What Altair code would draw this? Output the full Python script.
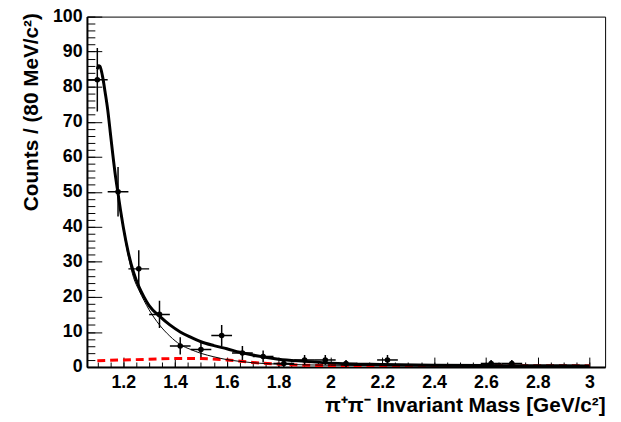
import altair as alt
import pandas as pd
import numpy as np

# ---- data ----
bin_centers = [1.10, 1.18, 1.26, 1.34, 1.42, 1.50, 1.58, 1.66, 1.74, 1.82, 1.90, 1.98, 2.06, 2.22, 2.62, 2.70]
counts = [82, 50, 28, 15, 6, 5, 9, 4, 3, 1, 2, 2, 1, 2, 1, 1]
bin_half_width = 0.04

curve_x = [1.100, 1.105, 1.11, 1.12, 1.13, 1.14, 1.15, 1.16, 1.17, 1.18, 1.19, 1.20, 1.22, 1.24, 1.26, 1.28,
           1.30, 1.34, 1.38, 1.42, 1.46, 1.50, 1.55, 1.60, 1.65, 1.70, 1.80, 1.90, 2.00, 2.20, 2.40, 2.60,
           2.80, 3.00]
total_fit = [85.0, 86.0, 85.8, 83.0, 78.5, 73.5, 67.0, 60.5, 54.5, 49.5, 44.5, 40.0, 32.5, 27.0, 23.0, 20.0,
             17.5, 14.5, 12.0, 10.0, 8.5, 7.2, 6.1, 5.2, 4.2, 3.4, 2.2, 1.6, 1.1, 0.7, 0.5, 0.4,
             0.35, 0.3]
signal_fit = [84.5, 85.5, 85.3, 82.5, 78.0, 73.0, 66.5, 60.0, 54.0, 49.0, 44.0, 39.5, 31.5, 25.5, 22.0, 19.0,
              16.3, 12.0, 8.8, 6.4, 5.0, 3.9, 2.9, 2.1, 1.6, 1.2, 0.8, 0.6, 0.5, 0.35, 0.25, 0.18,
              0.12, 0.08]
bkg_x = [1.10, 1.20, 1.30, 1.40, 1.50, 1.60, 1.70, 1.80, 1.90, 2.00, 2.20, 2.40, 2.60, 2.80, 3.00]
bkg_fit = [1.8, 2.0, 2.2, 2.4, 2.4, 2.0, 1.3, 0.8, 0.5, 0.4, 0.35, 0.35, 0.35, 0.35, 0.35]

x_major = [1.2, 1.4, 1.6, 1.8, 2.0, 2.2, 2.4, 2.6, 2.8, 3.0]
x_minor = [round(1.10 + 0.05 * i, 2) for i in range(39)]
y_major = list(range(0, 101, 10))
y_minor = list(range(0, 101, 2))

x_title = "\u03c0\u207a\u03c0\u207b Invariant Mass [GeV/c\u00b2]"
y_title = "Counts / (80 MeV/c\u00b2)"

W, H = 525, 355
FONT = "Liberation Sans"

pts = pd.DataFrame({"x": bin_centers, "y": counts})
pts["xlo"] = pts["x"] - bin_half_width
pts["xhi"] = pts["x"] + bin_half_width
pts["ylo"] = pts["y"] - np.sqrt(pts["y"])
pts["yhi"] = pts["y"] + np.sqrt(pts["y"])

curves = pd.DataFrame({"x": curve_x, "total": total_fit, "signal": signal_fit})
bkg = pd.DataFrame({"x": bkg_x, "bkg": bkg_fit})

xs = alt.Scale(domain=[1.06, 3.06], nice=False, zero=False)
ys = alt.Scale(domain=[0, 100], nice=False, zero=False)

label_axis_x = alt.Axis(orient="bottom", values=x_major, format="~g", ticks=False, tickSize=0,
                        domain=True, domainColor="black", domainWidth=2, grid=False,
                        labelFont=FONT, labelFontSize=18, labelFontWeight="bold", labelColor="black",
                        labelPadding=7, labelFlush=False, labelOverlap=False,
                        title=x_title, titleFont=FONT, titleFontSize=21, titleFontWeight="bold",
                        titleColor="black", titleAlign="right", titleAnchor="end",
                        titleBaseline="alphabetic", titleX=W, titleY=45)
label_axis_y = alt.Axis(orient="left", values=y_major, ticks=False, tickSize=0,
                        domain=True, domainColor="black", domainWidth=2, grid=False,
                        labelFont=FONT, labelFontSize=18, labelFontWeight="bold", labelColor="black",
                        labelPadding=5, labelFlush=False, labelOverlap=False, labelBaseline="middle",
                        title=y_title, titleFont=FONT, titleFontSize=21, titleFontWeight="bold",
                        titleColor="black", titleAngle=270, titleAlign="right",
                        titleBaseline="middle", titleX=-56, titleY=-4)

major_x = alt.Axis(orient="top", offset=-H, values=x_major, ticks=True, tickSize=10, tickColor="black",
                   tickWidth=1, labels=False, domain=False, grid=False, title=None)
major_y = alt.Axis(orient="right", offset=-W, values=y_major, ticks=True, tickSize=15, tickColor="black",
                   tickWidth=1, labels=False, domain=False, grid=False, title=None)
minor_x = alt.Axis(orient="top", offset=-H, values=x_minor, ticks=True, tickSize=5, tickColor="black",
                   tickWidth=1, labels=False, domain=False, grid=False, title=None)
minor_y = alt.Axis(orient="right", offset=-W, values=y_minor, ticks=True, tickSize=8, tickColor="black",
                   tickWidth=1, labels=False, domain=False, grid=False, title=None)

thick = alt.Chart(curves).mark_line(color="black", strokeWidth=3, interpolate="monotone", clip=True).encode(
    x=alt.X("x:Q", scale=xs, axis=major_x),
    y=alt.Y("total:Q", scale=ys, axis=major_y),
)
thin = alt.Chart(curves).mark_line(color="black", strokeWidth=1, interpolate="monotone", clip=True).encode(
    x=alt.X("x:Q", scale=xs, axis=minor_x),
    y=alt.Y("signal:Q", scale=ys, axis=minor_y),
)
red = alt.Chart(bkg).mark_line(color="#ff0000", strokeWidth=3, strokeDash=[8, 5],
                               interpolate="monotone", clip=True).encode(
    x=alt.X("x:Q", scale=xs, axis=None),
    y=alt.Y("bkg:Q", scale=ys, axis=None),
)
xerr = alt.Chart(pts).mark_rule(color="black", strokeWidth=1.5, clip=True).encode(
    x=alt.X("xlo:Q", scale=xs, axis=None),
    x2="xhi:Q",
    y=alt.Y("y:Q", scale=ys, axis=None),
)
yerr = alt.Chart(pts).mark_rule(color="black", strokeWidth=1.5, clip=True).encode(
    x=alt.X("x:Q", scale=xs, axis=None),
    y=alt.Y("ylo:Q", scale=ys, axis=None),
    y2="yhi:Q",
)
points = alt.Chart(pts).mark_circle(color="black", size=32, opacity=1).encode(
    x=alt.X("x:Q", scale=xs, axis=label_axis_x),
    y=alt.Y("y:Q", scale=ys, axis=label_axis_y),
)

chart = alt.layer(red, thin, thick, xerr, yerr, points).resolve_axis(
    x="independent", y="independent"
).properties(
    width=W, height=H,
    autosize=alt.AutoSizeParams(type="none"),
    padding={"left": 80, "top": 6, "right": 8, "bottom": 50},
    background="white",
).configure_view(stroke="black", strokeWidth=1)

chart.save("out.html", embed_options={"renderer": "svg", "actions": False})
